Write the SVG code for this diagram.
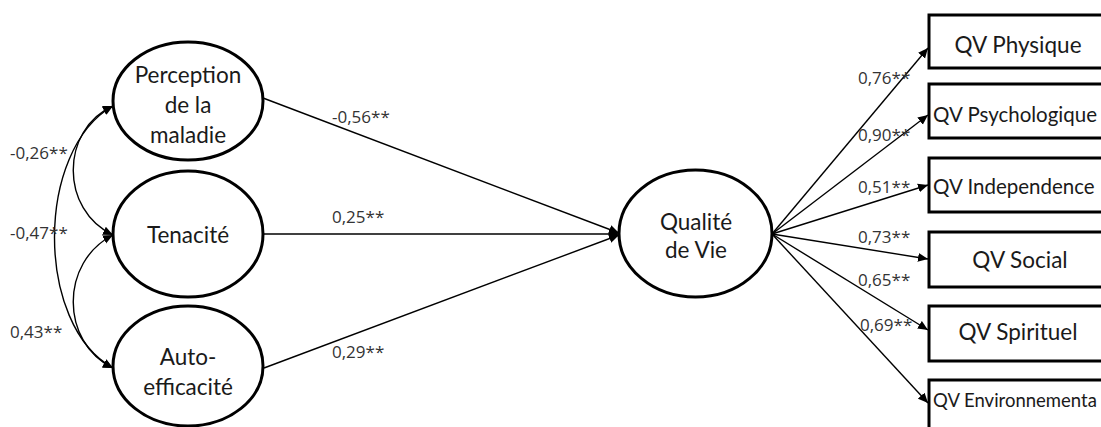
<svg xmlns="http://www.w3.org/2000/svg" width="1101" height="427" viewBox="0 0 1101 427">
  <style>
    .node { fill: #fff; stroke: #000; stroke-width: 3; }
    .lbl { font-family: Lato, "Liberation Sans", sans-serif; font-size: 22.5px; fill: #1a1a1a; }
    .lbl-long { font-size: 20.5px; }
    .coef { font-family: "Open Sans", "Liberation Sans", sans-serif; font-size: 17px; fill: #333; }
    .edge { fill: none; stroke: #000; stroke-width: 1.4; }
  </style>
  <defs>
    <marker id="arrow" viewBox="0 0 10 10" refX="10" refY="5" markerWidth="10" markerHeight="10" markerUnits="userSpaceOnUse" orient="auto-start-reverse">
      <path d="M0,0.5 L10,5 L0,9.5 Z" fill="#000"/>
    </marker>
  </defs>
  <rect width="1101" height="427" fill="#fff"/>

  <!-- connectors -->
  <g id="connectors">
    <!-- correlations between the exogenous factors -->
    <path class="edge" d="M113,106 C60,130 60,210 113,235" marker-start="url(#arrow)" marker-end="url(#arrow)"/>
    <path class="edge" d="M113,235 C60,262 60,342 113,368" marker-start="url(#arrow)" marker-end="url(#arrow)"/>
    <path class="edge" d="M113,106 C35,150 35,325 113,368" marker-start="url(#arrow)" marker-end="url(#arrow)"/>
    <!-- structural paths -->
    <line class="edge" x1="263" y1="98" x2="619" y2="233" marker-end="url(#arrow)"/>
    <line class="edge" x1="264" y1="234" x2="619" y2="234" marker-end="url(#arrow)"/>
    <line class="edge" x1="264" y1="368" x2="619" y2="235" marker-end="url(#arrow)"/>
    <!-- measurement paths -->
    <line class="edge" x1="772" y1="234" x2="928" y2="48" marker-end="url(#arrow)"/>
    <line class="edge" x1="772" y1="234" x2="928" y2="115" marker-end="url(#arrow)"/>
    <line class="edge" x1="772" y1="234" x2="928" y2="185" marker-end="url(#arrow)"/>
    <line class="edge" x1="772" y1="234" x2="928" y2="259" marker-end="url(#arrow)"/>
    <line class="edge" x1="772" y1="234" x2="928" y2="330" marker-end="url(#arrow)"/>
    <line class="edge" x1="772" y1="234" x2="928" y2="403" marker-end="url(#arrow)"/>

    <!-- coefficients -->
    <text class="coef" x="10" y="159">-0,26**</text>
    <text class="coef" x="10" y="239">-0,47**</text>
    <text class="coef" x="10" y="338">0,43**</text>
    <text class="coef" x="332" y="123">-0,56**</text>
    <text class="coef" x="332" y="223">0,25**</text>
    <text class="coef" x="332" y="358">0,29**</text>
    <text class="coef" x="858" y="84">0,76**</text>
    <text class="coef" x="858" y="141">0,90**</text>
    <text class="coef" x="858" y="193">0,51**</text>
    <text class="coef" x="858" y="243">0,73**</text>
    <text class="coef" x="858" y="286">0,65**</text>
    <text class="coef" x="860" y="331">0,69**</text>
  </g>

  <g id="perception">
    <ellipse class="node" cx="188" cy="101" rx="75" ry="59"/>
    <text class="lbl" x="188" y="83" text-anchor="middle">Perception</text>
    <text class="lbl" x="188" y="113" text-anchor="middle">de la</text>
    <text class="lbl" x="188" y="143" text-anchor="middle">maladie</text>
  </g>
  <g id="tenacite">
    <ellipse class="node" cx="188" cy="234" rx="75" ry="63"/>
    <text class="lbl" x="188" y="243" text-anchor="middle">Tenacité</text>
  </g>
  <g id="auto-efficacite">
    <ellipse class="node" cx="188" cy="366" rx="75" ry="60"/>
    <text class="lbl" x="188" y="365" text-anchor="middle">Auto-</text>
    <text class="lbl" x="188" y="395" text-anchor="middle">efficacité</text>
  </g>
  <g id="qualite-de-vie">
    <ellipse class="node" cx="695.5" cy="233.5" rx="76.5" ry="63.5"/>
    <text class="lbl" x="696" y="230" text-anchor="middle">Qualité</text>
    <text class="lbl" x="696" y="258" text-anchor="middle">de Vie</text>
  </g>

  <g id="qv-physique">
    <rect class="node" x="929" y="15" width="200" height="53"/>
    <text class="lbl" x="1018" y="53" text-anchor="middle">QV Physique</text>
  </g>
  <g id="qv-psychologique">
    <rect class="node" x="929" y="84" width="200" height="54"/>
    <text class="lbl lbl-long" x="933" y="122">QV Psychologique</text>
  </g>
  <g id="qv-independence">
    <rect class="node" x="929" y="158" width="200" height="54"/>
    <text class="lbl lbl-long" x="933" y="194">QV Independence</text>
  </g>
  <g id="qv-social">
    <rect class="node" x="929" y="232" width="200" height="55"/>
    <text class="lbl" x="1020" y="268" text-anchor="middle">QV Social</text>
  </g>
  <g id="qv-spirituel">
    <rect class="node" x="929" y="306" width="200" height="55"/>
    <text class="lbl" x="1018" y="340" text-anchor="middle">QV Spirituel</text>
  </g>
  <g id="qv-environnemental">
    <rect class="node" x="929" y="380" width="200" height="60"/>
    <text class="lbl" x="933" y="407" style="font-size:18.5px">QV Environnementa</text>
  </g>
</svg>
